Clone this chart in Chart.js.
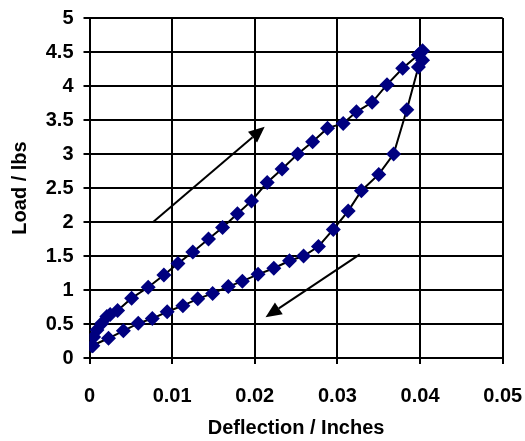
<!DOCTYPE html>
<html><head><meta charset="utf-8">
<script src="https://cdn.jsdelivr.net/npm/chart.js@4/dist/chart.umd.min.js"></script>
<style>html,body{margin:0;padding:0;background:#fff}</style>
</head><body>
<canvas id="c" width="525" height="441" style="width:525px;height:441px"></canvas>
<script>
// Loading branch (upper curve)
const loadingX = [0.0004,0.0005,0.0009,0.0015,0.0021,0.0025,0.0034,0.0051,0.0071,0.0090,0.0107,0.0125,0.0144,0.0161,0.0179,0.0196,0.0215,0.0233,0.0252,0.0270,0.0288,0.0307,0.0323,0.0342,0.0360,0.0379,0.0398,0.0403];
const loadingY = [0.18,0.31,0.41,0.51,0.61,0.64,0.70,0.88,1.04,1.22,1.39,1.56,1.75,1.92,2.12,2.31,2.58,2.78,3.00,3.18,3.38,3.45,3.62,3.76,4.02,4.26,4.46,4.52];
// Unloading branch (lower curve)
const unloadingX = [0.0403,0.0398,0.0384,0.0368,0.0350,0.0329,0.0313,0.0295,0.0277,0.0259,0.0242,0.0223,0.0204,0.0185,0.0168,0.0149,0.0131,0.0113,0.0094,0.0076,0.0059,0.0041,0.0023,0.0003];
const unloadingY = [4.38,4.28,3.65,3.00,2.70,2.46,2.16,1.89,1.64,1.50,1.43,1.32,1.23,1.13,1.05,0.95,0.87,0.77,0.68,0.58,0.51,0.40,0.29,0.18];
// Direction arrows (tail -> head) in data units
const arrowTails = [[0.0077,2.0],[0.0327,1.525]];
const arrowHeads = [[0.0212,3.4],[0.0213,0.60]];
const xTicks = [0,0.01,0.02,0.03,0.04,0.05];
const yTicks = [0,0.5,1,1.5,2,2.5,3,3.5,4,4.5,5];

const FONT = '"Liberation Sans", Arial, sans-serif';
const pts = (xs, ys) => xs.map((x, i) => ({x, y: ys[i]}));

const arrowPlugin = {
  id: 'arrows',
  afterDatasetsDraw(chart) {
    const {ctx, scales: {x, y}} = chart;
    ctx.save();
    ctx.strokeStyle = '#000'; ctx.fillStyle = '#000'; ctx.lineWidth = 2;
    arrowTails.forEach((t, i) => {
      const h = arrowHeads[i];
      const x1 = x.getPixelForValue(t[0]), y1 = y.getPixelForValue(t[1]);
      const x2 = x.getPixelForValue(h[0]), y2 = y.getPixelForValue(h[1]);
      const a = Math.atan2(y2 - y1, x2 - x1);
      const L = 16, W = 7;
      const bx = x2 - L * Math.cos(a), by = y2 - L * Math.sin(a);
      ctx.beginPath(); ctx.moveTo(x1, y1); ctx.lineTo(bx, by); ctx.stroke();
      ctx.beginPath();
      ctx.moveTo(x2, y2);
      ctx.lineTo(bx + W * Math.sin(a), by - W * Math.cos(a));
      ctx.lineTo(bx - W * Math.sin(a), by + W * Math.cos(a));
      ctx.closePath(); ctx.fill();
    });
    ctx.restore();
  }
};

const ds = (label, data) => ({
  label, data, showLine: true,
  borderColor: '#000', borderWidth: 2,
  pointStyle: 'rectRot', pointRadius: 7.5, pointHoverRadius: 7.5,
  pointBackgroundColor: '#000080', pointBorderColor: '#000080', pointBorderWidth: 0,
  tension: 0
});

new Chart(document.getElementById('c'), {
  type: 'scatter',
  data: { datasets: [ds('Loading', pts(loadingX, loadingY)), ds('Unloading', pts(unloadingX, unloadingY))] },
  options: {
    responsive: false, animation: false, devicePixelRatio: 1,
    layout: { padding: 0 },
    plugins: { legend: { display: false }, tooltip: { enabled: false } },
    scales: {
      x: {
        type: 'linear', min: 0, max: 0.05,
        afterBuildTicks: s => { s.ticks = xTicks.map(v => ({value: v})); },
        afterFit: s => { s.height = 83; s.paddingRight = 22.3; s.paddingLeft = 0; },
        grid: { color: '#000', lineWidth: 2, tickLength: 6, tickColor: '#000' },
        border: { color: '#000', width: 2 },
        ticks: { color: '#000', font: { family: FONT, size: 20, weight: 'bold' }, padding: 20, maxRotation: 0,
          callback: v => String(+v.toFixed(2)) },
        title: { display: true, text: 'Deflection / Inches', color: '#000', font: { family: FONT, size: 20, weight: 'bold' }, padding: { top: 0, bottom: 1 } }
      },
      y: {
        type: 'linear', min: 0, max: 5,
        afterBuildTicks: s => { s.ticks = yTicks.map(v => ({value: v})); },
        afterFit: s => { s.width = 89.5; s.paddingTop = 18; s.paddingBottom = 0; },
        grid: { color: '#000', lineWidth: 2, tickLength: 6, tickColor: '#000' },
        border: { color: '#000', width: 2 },
        ticks: { color: '#000', font: { family: FONT, size: 20, weight: 'bold' }, padding: 10,
          callback: v => String(+v.toFixed(1)) },
        title: { display: true, text: 'Load / lbs', color: '#000', font: { family: FONT, size: 20, weight: 'bold' }, padding: { top: 8, bottom: 4 } }
      }
    }
  },
  plugins: [arrowPlugin]
});
</script>
</body></html>
